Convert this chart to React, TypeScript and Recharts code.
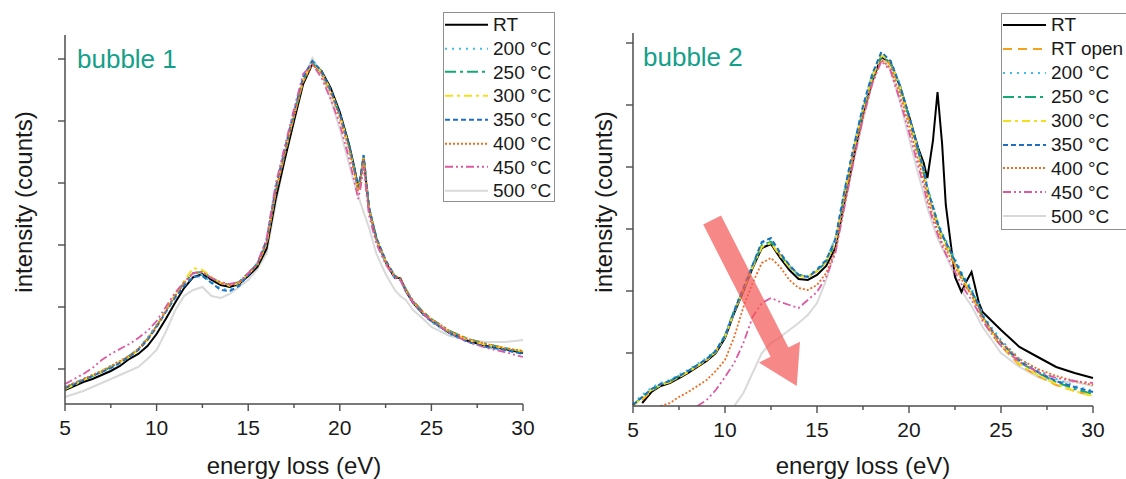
import React from 'react';
import { LineChart, Line, XAxis, YAxis, ReferenceLine } from 'recharts';

const FONT = '"Liberation Sans", Arial, Helvetica, sans-serif';
const AXIS = '#4d4d4d';
const TEXT = '#1a1a1a';
const TEAL = '#149f89';

// ---- bubble 1 (left panel), intensity in arbitrary counts ----
const eV1 = [5, 5.5, 6, 6.5, 7, 7.5, 8, 8.5, 9, 9.5, 10, 10.5, 11, 11.5, 12, 12.5, 13, 13.5, 14, 14.5, 15, 15.5, 16, 16.5, 17, 17.5, 18, 18.5, 19, 19.5, 20, 20.5, 20.8, 21, 21.15, 21.3, 21.45, 21.6, 22, 22.5, 23, 23.3, 23.6, 24, 24.5, 25, 26, 27, 28, 29, 30];
const b1RT = [14, 18, 22, 25, 29, 33, 38, 45, 50, 58, 70, 85, 101, 116, 127, 130, 124, 119, 117, 120, 128, 137, 155, 205, 245, 283, 320, 340, 333, 316, 292, 260, 236, 216, 228, 246, 220, 195, 165, 142, 126, 126, 113, 101, 91, 83, 71, 63, 58, 55, 51];
const b1T200 = [17, 21, 25, 29, 33, 38, 43, 48, 55, 66, 79, 94, 108, 120, 128, 129, 122, 115, 114, 119, 130, 141, 164, 216, 254, 291, 326, 344, 332, 313, 288, 257, 233, 215, 227, 248, 218, 193, 163, 141, 126, 124, 113, 101, 90, 82, 70, 62, 57, 54, 51];
const b1T250 = [16, 20, 24, 28, 32, 37, 42, 48, 55, 65, 78, 93, 108, 121, 131, 132, 126, 121, 119, 122, 131, 140, 161, 212, 251, 288, 323, 341, 331, 313, 289, 258, 234, 216, 228, 249, 221, 196, 166, 143, 128, 126, 115, 103, 93, 85, 73, 65, 60, 56, 52];
const b1T300 = [15, 19, 24, 28, 33, 37, 42, 47, 54, 64, 77, 93, 109, 123, 136, 134, 127, 121, 118, 121, 130, 139, 160, 213, 252, 289, 323, 342, 332, 314, 289, 257, 233, 214, 226, 246, 220, 195, 165, 143, 128, 125, 114, 102, 92, 84, 72, 64, 59, 56, 53];
const b1T350 = [16, 20, 24, 28, 32, 36, 41, 47, 54, 64, 77, 92, 106, 118, 127, 128, 121, 114, 113, 118, 129, 140, 163, 216, 255, 292, 327, 343, 333, 314, 290, 259, 235, 217, 229, 249, 222, 196, 166, 144, 128, 125, 114, 102, 91, 83, 71, 62, 57, 54, 50];
const b1T400 = [17, 21, 25, 29, 33, 38, 43, 48, 55, 65, 78, 93, 108, 121, 131, 132, 126, 121, 119, 121, 130, 139, 160, 211, 250, 287, 322, 340, 330, 311, 286, 255, 231, 213, 225, 246, 219, 194, 164, 143, 128, 126, 115, 103, 93, 85, 73, 65, 60, 56, 53];
const b1T450 = [20, 25, 30, 36, 44, 50, 55, 60, 66, 73, 83, 97, 111, 122, 131, 132, 126, 122, 120, 122, 131, 141, 165, 220, 258, 295, 330, 340, 326, 305, 280, 246, 222, 205, 218, 238, 211, 188, 160, 140, 126, 124, 113, 101, 91, 83, 71, 62, 56, 52, 47];
const b1T500 = [7, 10, 13, 17, 21, 25, 29, 33, 37, 45, 54, 72, 93, 108, 114, 117, 108, 106, 110, 117, 124, 135, 150, 200, 245, 285, 323, 346, 330, 305, 275, 240, 220, 209, 200, 192, 184, 176, 150, 130, 114, 108, 104, 94, 86, 77, 68, 64, 62, 62, 64];

// ---- bubble 2 (right panel) ----
const eV2 = [5, 5.5, 6, 6.5, 7, 7.5, 8, 8.5, 9, 9.5, 10, 10.5, 11, 11.5, 12, 12.5, 13, 13.5, 14, 14.5, 15, 15.5, 16, 16.5, 17, 17.5, 18, 18.5, 19, 19.5, 20, 20.5, 20.8, 21, 21.3, 21.55, 21.8, 22, 22.5, 22.85, 23.1, 23.4, 23.8, 24, 24.5, 25, 26, 27, 28, 29, 30];
const b2RT = [null, 3, 14, 20, 23, 28, 33, 39, 45, 53, 68, 93, 115, 138, 158, 162, 148, 136, 127, 126, 131, 140, 158, 205, 250, 292, 325, 349, 343, 320, 290, 258, 243, 228, 265, 314, 262, 201, 129, 114, 124, 134, 103, 94, 85, 76, 59, 49, 39, 33, 28];
const b2RTopen = [null, 6, 15, 21, 24, 29, 34, 40, 46, 55, 70, 95, 117, 140, 160, 164, 151, 140, 131, 129, 135, 144, 164, 212, 257, 297, 329, 350, 341, 317, 286, 252, 232, 214, 196, 180, 168, 161, 141, 128, 120, 111, 96, 86, 72, 60, 41, 30, 21, 15, 10];
const b2T200 = [2, 11, 18, 23, 26, 31, 36, 42, 48, 56, 71, 96, 118, 141, 163, 167, 152, 140, 131, 130, 137, 146, 168, 216, 260, 299, 331, 353, 345, 322, 291, 257, 237, 219, 201, 185, 173, 166, 147, 134, 126, 117, 102, 92, 78, 66, 47, 36, 27, 20, 15];
const b2T250 = [1, 9, 16, 21, 25, 30, 35, 41, 47, 55, 70, 95, 117, 140, 161, 164, 151, 140, 131, 129, 135, 144, 164, 211, 256, 296, 327, 350, 343, 320, 289, 255, 235, 217, 199, 183, 171, 164, 144, 131, 123, 114, 99, 89, 75, 63, 44, 33, 24, 17, 12];
const b2T300 = [0, 8, 16, 21, 24, 29, 34, 40, 46, 54, 69, 94, 116, 139, 159, 163, 150, 139, 130, 129, 135, 144, 164, 212, 257, 297, 329, 351, 344, 320, 289, 255, 234, 216, 198, 182, 170, 163, 143, 130, 122, 113, 98, 88, 74, 62, 42, 31, 22, 15, 10];
const b2T350 = [1, 9, 17, 22, 25, 30, 35, 41, 47, 55, 70, 95, 118, 141, 164, 168, 153, 141, 131, 129, 136, 146, 167, 216, 260, 300, 332, 354, 345, 321, 290, 256, 235, 217, 199, 183, 171, 164, 145, 132, 124, 115, 100, 90, 76, 64, 45, 34, 25, 19, 14];
const b2T400 = [null, null, null, 0, 3, 9, 14, 20, 26, 35, 46, 69, 99, 123, 143, 148, 139, 126, 118, 116, 121, 133, 156, 205, 250, 290, 324, 346, 338, 312, 280, 246, 226, 208, 190, 176, 163, 157, 139, 127, 119, 111, 97, 88, 75, 64, 47, 37, 30, 25, 21];
const b2T450 = [null, null, null, null, null, null, null, 0, 6, 16, 29, 43, 63, 89, 103, 108, 104, 101, 98, 106, 114, 129, 153, 200, 246, 288, 322, 345, 335, 306, 274, 240, 220, 203, 186, 172, 160, 152, 134, 122, 114, 106, 93, 85, 72, 60, 44, 34, 28, 25, 23];
const b2T500 = [null, null, null, null, null, null, null, null, null, null, null, 0, 13, 33, 53, 63, 69, 76, 83, 91, 103, 126, 156, 200, 245, 286, 322, 348, 336, 305, 268, 232, 212, 198, 181, 168, 158, 151, 130, 116, 108, 100, 86, 79, 66, 53, 39, 29, 24, 24, 20];

// arrow annotation in bubble 2 (eV, counts)
const arrowFrom = { x: 9.3, y: 186 };
const arrowTo = { x: 13.9, y: 20 };

const xTicks = [5, 7.5, 10, 12.5, 15, 17.5, 20, 22.5, 25, 27.5, 30];
const yTicks1 = [35, 97, 159, 221, 283, 345];
const yTicks2 = [53, 115, 177, 239, 301, 363];

const STYLE: Record<string, { name: string; color: string; dash?: string; width: number }> = {
  rt: { name: 'RT', color: '#000000', width: 2 },
  rtOpen: { name: 'RT open', color: '#f5a11c', dash: '9 6', width: 2 },
  t200: { name: '200 °C', color: '#3dbdf0', dash: '2 5', width: 2.2 },
  t250: { name: '250 °C', color: '#16a777', dash: '11 4 3 4', width: 2 },
  t300: { name: '300 °C', color: '#f3e01b', dash: '8 4 3 4', width: 2 },
  t350: { name: '350 °C', color: '#1c6fc2', dash: '5 3', width: 2 },
  t400: { name: '400 °C', color: '#f26a1f', dash: '2 2', width: 1.8 },
  t450: { name: '450 °C', color: '#dd5aa2', dash: '8 3 2 3 2 3', width: 1.8 },
  t500: { name: '500 °C', color: '#d9d9d9', width: 2 },
};

const rows1 = eV1.map((e, i) => ({
  e, rt: b1RT[i], t200: b1T200[i], t250: b1T250[i], t300: b1T300[i],
  t350: b1T350[i], t400: b1T400[i], t450: b1T450[i], t500: b1T500[i],
}));
const rows2 = eV2.map((e, i) => ({
  e, rt: b2RT[i], rtOpen: b2RTopen[i], t200: b2T200[i], t250: b2T250[i], t300: b2T300[i],
  t350: b2T350[i], t400: b2T400[i], t450: b2T450[i], t500: b2T500[i],
}));

const BottomTick = (p: any) => {
  const major = p.payload.value % 5 === 0;
  return (
    <g>
      <line x1={p.x} y1={p.y} x2={p.x} y2={p.y + (major ? 7 : 4)} stroke={AXIS} strokeWidth={1.4} />
      {major && (
        <text x={p.x} y={p.y + 31} textAnchor="middle" fontSize={21} fontFamily={FONT} fill={TEXT}>
          {p.payload.value}
        </text>
      )}
    </g>
  );
};

const TopTick = (p: any) => {
  const major = p.payload.value % 5 === 0;
  return <line x1={p.x} y1={p.y} x2={p.x} y2={p.y - (major ? 7 : 4)} stroke={AXIS} strokeWidth={1.4} />;
};

const LeftTick = (p: any) => (
  <line x1={p.x} y1={p.y} x2={p.x - 7} y2={p.y} stroke={AXIS} strokeWidth={1.4} />
);

const ArrowShape = (p: any) => {
  const { x1, y1, x2, y2 } = p;
  const len = Math.hypot(x2 - x1, y2 - y1);
  const ux = (x2 - x1) / len;
  const uy = (y2 - y1) / len;
  const nx = -uy;
  const ny = ux;
  const head = 38, hw = 23, sw = 10;
  const bx = x2 - ux * head;
  const by = y2 - uy * head;
  const pts = [
    [x1 + nx * sw, y1 + ny * sw],
    [bx + nx * sw, by + ny * sw],
    [bx + nx * hw, by + ny * hw],
    [x2, y2],
    [bx - nx * hw, by - ny * hw],
    [bx - nx * sw, by - ny * sw],
    [x1 - nx * sw, y1 - ny * sw],
  ];
  return <polygon points={pts.map((q) => q.join(',')).join(' ')} fill="#f45555" fillOpacity={0.7} />;
};

interface LegendProps {
  keys: string[];
  left: number;
  top: number;
  width: number;
  height: number;
  rowGap: number;
  rowOffset: number;
  sample: number;
}

const LegendBox = ({ keys, left, top, width, height, rowGap, rowOffset, sample }: LegendProps) => (
  <div
    style={{
      position: 'absolute', left, top, width, height, boxSizing: 'border-box',
      border: '1.5px solid #8f8f8f', background: '#fff', fontFamily: FONT, fontSize: 19, color: TEXT,
    }}
  >
    {keys.map((k, i) => (
      <div
        key={k}
        style={{ position: 'absolute', left: 0, top: rowOffset + i * rowGap, height: rowGap, display: 'flex', alignItems: 'center' }}
      >
        <svg width={sample + 2} height={rowGap} style={{ display: 'block' }}>
          <line
            x1={1} x2={sample} y1={rowGap / 2} y2={rowGap / 2}
            stroke={STYLE[k].color} strokeWidth={2} strokeDasharray={STYLE[k].dash}
          />
        </svg>
        <span style={{ marginLeft: 3, whiteSpace: 'nowrap', lineHeight: 1 }}>{STYLE[k].name}</span>
      </div>
    ))}
  </div>
);

interface PanelProps {
  left: number;
  width: number;
  margin: { top: number; right: number; left: number; bottom: number };
  xAxisHeight: number;
  rows: any[];
  keys: string[];
  yMax: number;
  yTicks: number[];
  arrow?: boolean;
}

const Panel = ({ left, width, margin, xAxisHeight, rows, keys, yMax, yTicks, arrow }: PanelProps) => (
  <div style={{ position: 'absolute', left, top: 0 }}>
    <LineChart width={width} height={479} data={rows} margin={margin}>
      <XAxis
        dataKey="e" type="number" domain={[5, 30]} ticks={xTicks} interval={0}
        tickSize={0} tickMargin={0} tickLine={false} tick={BottomTick}
        height={xAxisHeight} axisLine={{ stroke: AXIS, strokeWidth: 1.5 }}
        label={{ value: 'energy loss (eV)', position: 'insideBottom', offset: 5, style: { fontSize: 24, fontFamily: FONT, fill: TEXT } }}
      />
      <XAxis
        xAxisId="top" orientation="top" dataKey="e" type="number" domain={[5, 30]} ticks={xTicks} interval={0}
        tickSize={0} tickMargin={0} tickLine={false} tick={TopTick}
        height={0} axisLine={{ stroke: AXIS, strokeWidth: 1.5 }}
      />
      <YAxis
        type="number" domain={[0, yMax]} ticks={yTicks} interval={0} allowDataOverflow
        tickSize={0} tickMargin={0} tickLine={false} tick={LeftTick}
        width={60} axisLine={{ stroke: AXIS, strokeWidth: 1.5 }}
      />
      <YAxis
        yAxisId="r" orientation="right" type="number" domain={[0, yMax]} ticks={yTicks}
        tick={false} tickLine={false} width={0} axisLine={{ stroke: AXIS, strokeWidth: 1.5 }}
      />
      {keys.map((k) => (
        <Line
          key={k} dataKey={k} type="linear" dot={false} isAnimationActive={false}
          stroke={STYLE[k].color} strokeWidth={STYLE[k].width} strokeDasharray={STYLE[k].dash}
        />
      ))}
      {arrow && <ReferenceLine segment={[arrowFrom, arrowTo]} shape={ArrowShape} ifOverflow="visible" />}
    </LineChart>
  </div>
);

const titleStyle = (left: number, top: number): React.CSSProperties => ({
  position: 'absolute', left, top, fontFamily: FONT, fontSize: 26, lineHeight: '26px', color: TEAL, whiteSpace: 'nowrap',
});

const yTitleStyle = (cx: number, cy: number): React.CSSProperties => ({
  position: 'absolute', left: cx, top: cy, transform: 'translate(-50%, -50%) rotate(-90deg)',
  fontFamily: FONT, fontSize: 24, color: TEXT, whiteSpace: 'nowrap', lineHeight: '28px',
});

export default function App() {
  return (
    <div style={{ position: 'absolute', left: 0, top: 0, width: 1126, height: 479, overflow: 'hidden', background: '#fff' }}>
      <Panel
        left={0} width={560} margin={{ top: 35, right: 37, left: 5, bottom: 0 }} xAxisHeight={75}
        rows={rows1} keys={['t500', 'rt', 't200', 't250', 't300', 't350', 't400', 't450']}
        yMax={369} yTicks={yTicks1}
      />
      <Panel
        left={560} width={566} margin={{ top: 33, right: 33, left: 13, bottom: 0 }} xAxisHeight={73}
        rows={rows2} keys={['t500', 'rt', 'rtOpen', 't200', 't250', 't300', 't350', 't400', 't450']}
        yMax={373} yTicks={yTicks2} arrow
      />
      <div style={titleStyle(77, 46)}>bubble 1</div>
      <div style={titleStyle(643, 44)}>bubble 2</div>
      <div style={yTitleStyle(24, 202)}>intensity (counts)</div>
      <div style={yTitleStyle(604, 202)}>intensity (counts)</div>
      <LegendBox
        keys={['rt', 't200', 't250', 't300', 't350', 't400', 't450', 't500']}
        left={443} top={12} width={112} height={190} rowGap={23.7} rowOffset={0} sample={44}
      />
      <LegendBox
        keys={['rt', 'rtOpen', 't200', 't250', 't300', 't350', 't400', 't450', 't500']}
        left={1001} top={13} width={140} height={217} rowGap={23.9} rowOffset={-1} sample={44}
      />
    </div>
  );
}
